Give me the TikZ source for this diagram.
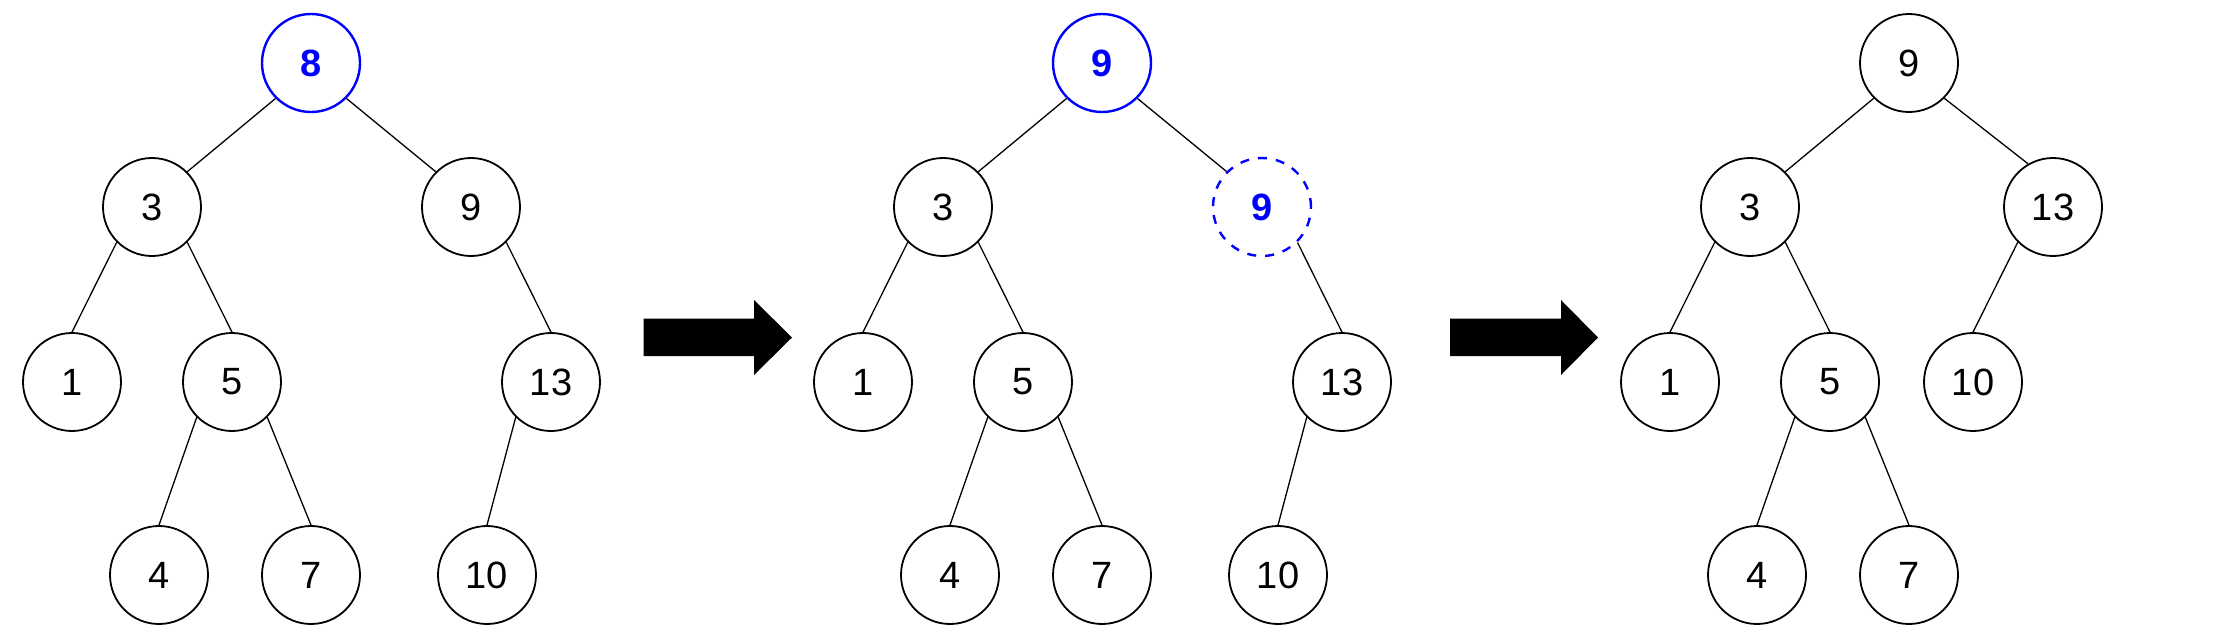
\documentclass[tikz,border=0pt]{standalone}
\usepackage{fontspec}
\setmainfont{Liberation Sans}
\usepackage{tikz}
\usetikzlibrary{backgrounds}
\tikzstyle{graph}=[x=0.5pt, y=-0.5pt, font=\fontsize{19}{22}\selectfont]
\tikzstyle{t}=[circle, inner sep=0pt, draw, line width=0.9pt, fill=white, minimum size=49pt]
\tikzstyle{cur}=[circle, inner sep=0pt, draw=blue, line width=1.2pt, fill=white, text=blue, font=\fontsize{19}{22}\selectfont\bfseries, minimum size=49pt]
\tikzstyle{pac}=[cur, dash pattern=on 4.5pt off 4.5pt]
\tikzstyle{edge}=[line width=0.65pt]
\tikzstyle{bigarrow}=[fill=black]

\begin{document}
\begin{tikzpicture}[graph]
	\useasboundingbox (0,0) rectangle (2228,638);
	% before
	\draw (311,63) node[cur] (a1) {8};
	\draw (152,207) node[t] (a2) {3};
	\draw (471,207) node[t] (a3) {9};
	\draw (72,382) node[t] (a4) {1};
	\draw (232,382) node[t] (a5) {5};
	\draw (551,382) node[t] (a6) {13};
	\draw (159,575) node[t] (a7) {4};
	\draw (311,575) node[t] (a8) {7};
	\draw (487,575) node[t] (a9) {10};
	\draw[edge] (a1.south west) -- (a2.north east);
	\draw[edge] (a1.south east) -- (a3.north west);
	\draw[edge] (a2.south west) -- (a4.north);
	\draw[edge] (a2.south east) -- (a5.north);
	\draw[edge] (a3.south east) -- (a6.north);
	\draw[edge] (a5.south west) -- (a7.north);
	\draw[edge] (a5.south east) -- (a8.north);
	\draw[edge] (a6.south west) -- (a9.north);
	\fill[bigarrow] (643.5,318.5) -- (754,318.5) -- (754,300) -- (792,337.5) -- (754,375) -- (754,356) -- (643.5,356) -- cycle;
	% successor copied up
	\draw (1102,63) node[cur] (b1) {9};
	\draw (943,207) node[t] (b2) {3};
	\draw (1262,207) node[pac] (b3) {9};
	\draw (863,382) node[t] (b4) {1};
	\draw (1023,382) node[t] (b5) {5};
	\draw (1342,382) node[t] (b6) {13};
	\draw (950,575) node[t] (b7) {4};
	\draw (1102,575) node[t] (b8) {7};
	\draw (1278,575) node[t] (b9) {10};
	\draw[edge] (b1.south west) -- (b2.north east);
	\draw[edge] (b1.south east) -- (b3.north west);
	\draw[edge] (b2.south west) -- (b4.north);
	\draw[edge] (b2.south east) -- (b5.north);
	\draw[edge] (b3.south east) -- (b6.north);
	\draw[edge] (b5.south west) -- (b7.north);
	\draw[edge] (b5.south east) -- (b8.north);
	\draw[edge] (b6.south west) -- (b9.north);
	\fill[bigarrow] (1450,318.5) -- (1561,318.5) -- (1561,300) -- (1598,337.5) -- (1561,375) -- (1561,356) -- (1450,356) -- cycle;
	% after
	\draw (1909,63) node[t] (c1) {9};
	\draw (1750,207) node[t] (c2) {3};
	\draw (2053,207) node[t] (c3) {13};
	\draw (1670,382) node[t] (c4) {1};
	\draw (1830,382) node[t] (c5) {5};
	\draw (1973,382) node[t] (c6) {10};
	\draw (1757,575) node[t] (c7) {4};
	\draw (1909,575) node[t] (c8) {7};
	\draw[edge] (c1.south west) -- (c2.north east);
	\draw[edge] (c1.south east) -- (c3.120);
	\draw[edge] (c2.south west) -- (c4.north);
	\draw[edge] (c2.south east) -- (c5.north);
	\draw[edge] (c3.south west) -- (c6.north);
	\draw[edge] (c5.south west) -- (c7.north);
	\draw[edge] (c5.south east) -- (c8.north);
\end{tikzpicture}
\end{document}
